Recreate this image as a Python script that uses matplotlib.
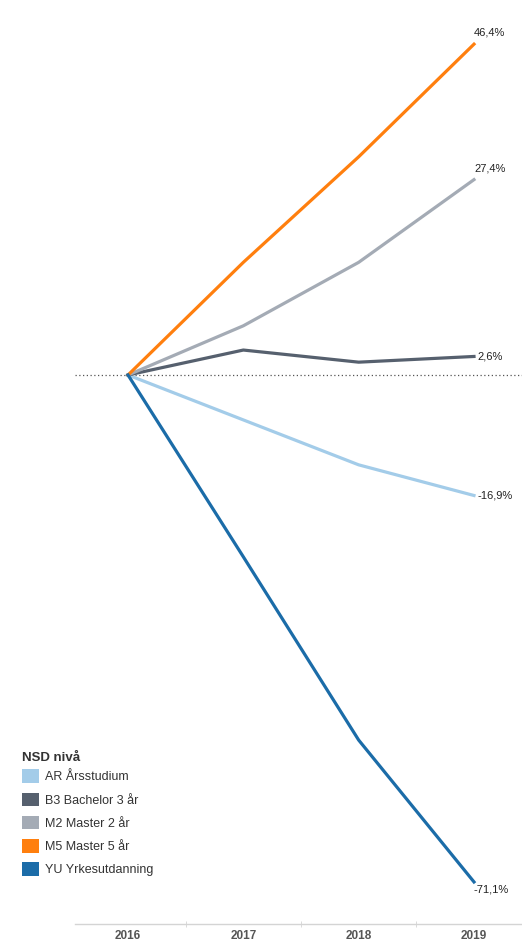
import matplotlib.pyplot as plt
from matplotlib.patches import Patch

plt.rcParams['font.family'] = ['Liberation Sans', 'DejaVu Sans']

years = ['2016', '2017', '2018', '2019']
nivaa = ['AR Årsstudium', 'B3 Bachelor 3 år', 'M2 Master 2 år', 'M5 Master 5 år', 'YU Yrkesutdanning']
endring = {
    'AR Årsstudium': [0, -6.3, -12.6, -16.9],
    'B3 Bachelor 3 år': [0, 3.5, 1.8, 2.6],
    'M2 Master 2 år': [0, 6.9, 15.8, 27.4],
    'M5 Master 5 år': [0, 15.8, 30.6, 46.4],
    'YU Yrkesutdanning': [0, -25.5, -51.2, -71.1],
}
farger = {
    'AR Årsstudium': '#a3cce9',
    'B3 Bachelor 3 år': '#56606e',
    'M2 Master 2 år': '#a4abb5',
    'M5 Master 5 år': '#ff7f0e',
    'YU Yrkesutdanning': '#1b6ca8',
}
etiketter = ['-16,9%', '2,6%', '27,4%', '46,4%', '-71,1%']

W, H = 522, 941
fig = plt.figure(figsize=(W / 100, H / 100), dpi=100)
# axes from x=75px to right edge, y from 10px to 924px
ax = fig.add_axes([75 / W, (H - 924) / H, (W - 75) / W, (924 - 10) / H])

x = list(range(len(years)))
for n in nivaa:
    ax.plot(x, endring[n], color=farger[n], lw=2.3, solid_joinstyle='round', zorder=3)

ax.axhline(0, color='#555555', lw=0.9, ls=(0, (1, 2)), zorder=1)

# etiketter ved siste år
for n, lab in zip(nivaa, etiketter):
    v = endring[n][-1]
    if n in ('M5 Master 5 år', 'M2 Master 2 år'):
        ax.annotate(lab, (x[-1], v), xytext=(0, 4.5), textcoords='offset points',
                    ha='left', va='bottom', fontsize=8, color='#222222')
    elif n == 'YU Yrkesutdanning':
        ax.annotate(lab, (x[-1], v), xytext=(0, -2), textcoords='offset points',
                    ha='left', va='top', fontsize=8, color='#222222')
    else:
        ax.annotate(lab, (x[-1], v), xytext=(2.5, 0), textcoords='offset points',
                    ha='left', va='center', fontsize=8, color='#222222')

ax.set_xlim((75 - 128) / 115.33, (W - 128) / 115.33)
ax.set_ylim((375 - 924) / 7.13, (375 - 10) / 7.13)

for s in ['top', 'right', 'left']:
    ax.spines[s].set_visible(False)
ax.spines['bottom'].set_color('#d4d4d4')
ax.spines['bottom'].set_linewidth(1.0)
ax.set_yticks([])
ax.set_xticks(x)
ax.set_xticklabels(years, fontsize=8.5, fontweight='bold', color='#555555')
ax.tick_params(axis='x', which='major', length=0, pad=4)
ax.set_xticks([0.5, 1.5, 2.5], minor=True)
ax.tick_params(axis='x', which='minor', length=4, direction='inout', color='#d4d4d4')

# legende med egen tittel
fig.text(22 / W, 1 - 758 / H, 'NSD nivå', fontsize=9.5, fontweight='bold',
         color='#333333', ha='left', va='center')
handles = [Patch(facecolor=farger[n], edgecolor='none') for n in nivaa]
leg = fig.legend(handles, nivaa, loc='upper left', bbox_to_anchor=(16 / W, 1 - 763 / H),
                 frameon=False, fontsize=9,
                 handlelength=1.3, handleheight=1.3, handletextpad=0.5,
                 labelspacing=0.74, borderpad=0, labelcolor='#333333')

fig.savefig('out.png', dpi=100)
